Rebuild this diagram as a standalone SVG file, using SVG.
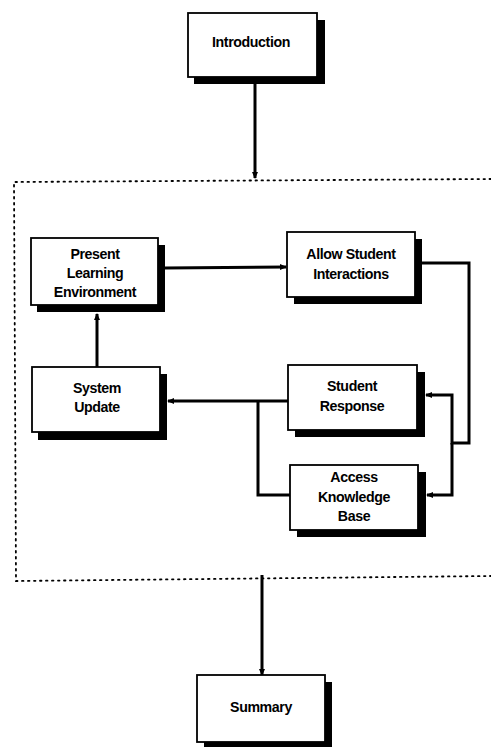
<svg xmlns="http://www.w3.org/2000/svg" width="491" height="747" viewBox="0 0 491 747">
<style>
.shadow{fill:#000}
.box{fill:#fff;stroke:#000;stroke-width:1.8}
.lbl{font-family:"Liberation Sans",Arial,sans-serif;font-weight:bold;font-size:14.2px;fill:#000;text-anchor:middle;letter-spacing:-0.4px}
.con{fill:none;stroke:#000;stroke-width:3;stroke-linejoin:miter}
.dot{fill:none;stroke:#000;stroke-width:1.8;stroke-dasharray:1.5 4.5;stroke-linecap:round}
</style>
<defs>
<marker id="ah" markerUnits="userSpaceOnUse" markerWidth="8" markerHeight="8" refX="6" refY="4" orient="auto">
<path d="M0,1 L7,4 L0,7 Z" fill="#000"/>
</marker>
</defs>
<rect width="491" height="747" fill="#fff"/>
<path class="dot" d="M491 179 L14 182 L16 581 L491 576"/>
<g id="connectors">
<path class="con" d="M255 83 V178" marker-end="url(#ah)"/>
<path class="con" d="M165 268 L286 267" marker-end="url(#ah)"/>
<path class="con" d="M422 263 H469 V443 H452 V395 H426" marker-end="url(#ah)"/>
<path class="con" d="M452 443 V495 H427" marker-end="url(#ah)"/>
<path class="con" d="M288 401 H168" marker-end="url(#ah)"/>
<path class="con" d="M290 495 H258 V401"/>
<path class="con" d="M97 367 V314" marker-end="url(#ah)"/>
<path class="con" d="M262 575 V675" marker-end="url(#ah)"/>
</g>
<g id="introduction">
<rect class="shadow" x="194" y="20" width="131" height="64"/>
<rect class="box" x="188" y="13" width="129" height="64"/>
<text class="lbl" x="251" y="47">Introduction</text>
</g>
<g id="present">
<rect class="shadow" x="37" y="245" width="128" height="67"/>
<rect class="box" x="31" y="238" width="127" height="67"/>
<text class="lbl" x="95" y="259">Present</text>
<text class="lbl" x="95" y="278">Learning</text>
<text class="lbl" x="95" y="297">Environment</text>
</g>
<g id="allow">
<rect class="shadow" x="294" y="239" width="128" height="65"/>
<rect class="box" x="287" y="232" width="128" height="65"/>
<text class="lbl" x="351" y="259">Allow Student</text>
<text class="lbl" x="351" y="279">Interactions</text>
</g>
<g id="update">
<rect class="shadow" x="38" y="374" width="129" height="66"/>
<rect class="box" x="32" y="367" width="128" height="65"/>
<text class="lbl" x="97" y="393">System</text>
<text class="lbl" x="97" y="412">Update</text>
</g>
<g id="response">
<rect class="shadow" x="295" y="372" width="130" height="65"/>
<rect class="box" x="288" y="365" width="129" height="65"/>
<text class="lbl" x="352" y="391">Student</text>
<text class="lbl" x="352" y="411">Response</text>
</g>
<g id="access">
<rect class="shadow" x="297" y="472" width="129" height="65"/>
<rect class="box" x="290" y="465" width="128" height="65"/>
<text class="lbl" x="354" y="482">Access</text>
<text class="lbl" x="354" y="502">Knowledge</text>
<text class="lbl" x="354" y="521">Base</text>
</g>
<g id="summary">
<rect class="shadow" x="204" y="682" width="128" height="66"/>
<rect class="box" x="197" y="675" width="128" height="67"/>
<text class="lbl" x="261" y="712">Summary</text>
</g>
</svg>
